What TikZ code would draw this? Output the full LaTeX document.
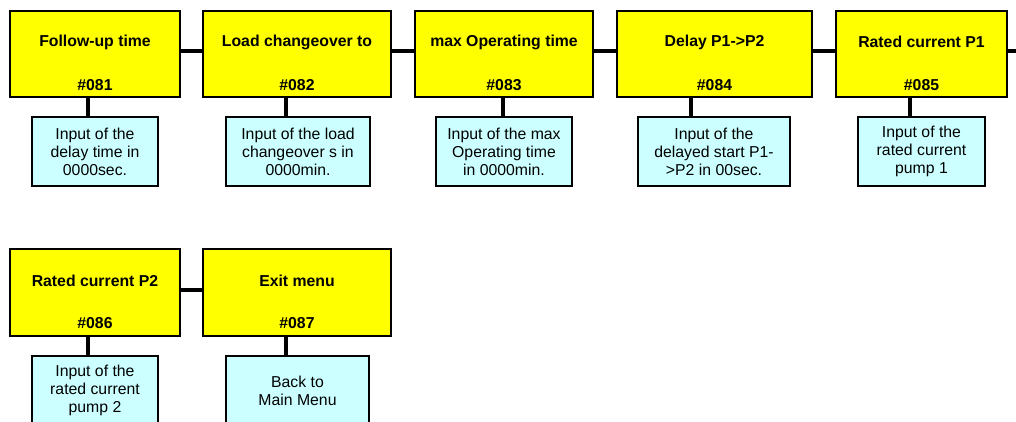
\documentclass[tikz,border=0pt]{standalone}
\usepackage{fontspec}
\setmainfont{Liberation Sans}
\definecolor{menuyellow}{RGB}{255,255,0}
\definecolor{infocyan}{RGB}{204,255,255}
\begin{document}
\begin{tikzpicture}[x=1pt,y=-1pt,
  menubox/.style={draw=black,line width=2pt,fill=menuyellow,inner sep=0pt},
  infobox/.style={draw=black,line width=1.8pt,fill=infocyan,inner sep=0pt,
    minimum height=69pt,align=center,font=\fontsize{15.8}{18}\selectfont},
  title/.style={font=\bfseries\fontsize{15.8}{18}\selectfont},
  link/.style={line width=4pt}]
  \useasboundingbox (0,0) rectangle (1016,422);
  % first row of menu entries
  \node[menubox,minimum width=170pt,minimum height=86pt] (m81) at (95,54) {};
  \node[menubox,minimum width=188pt,minimum height=86pt] (m82) at (297,54) {};
  \node[menubox,minimum width=178pt,minimum height=86pt] (m83) at (504,54) {};
  \node[menubox,minimum width=195pt,minimum height=86pt] (m84) at (714.5,54) {};
  \node[menubox,minimum width=171pt,minimum height=86pt] (m85) at (921.5,54) {};
  \node[title] (t81) at (95,42) {Follow-up time};
  \node[title] (t82) at (297,42) {Load changeover to};
  \node[title] (t83) at (504,42) {max Operating time};
  \node[title] (t84) at (714.5,42) {Delay P1->P2};
  \node[title] (t85) at (921.5,42) {Rated current P1};
  \node[title] (n81) at (95,85) {\#081};
  \node[title] (n82) at (297,85) {\#082};
  \node[title] (n83) at (504,85) {\#083};
  \node[title] (n84) at (714.5,85) {\#084};
  \node[title] (n85) at (921.5,85) {\#085};
  \node[infobox,minimum width=126pt] (i81) at (95,151.5) {Input of the\\delay time in\\0000sec.};
  \node[infobox,minimum width=144pt] (i82) at (298,151.5) {Input of the load\\changeover s in\\0000min.};
  \node[infobox,minimum width=136pt] (i83) at (504,151.5) {Input of the max\\Operating time\\in 0000min.};
  \node[infobox,minimum width=152pt] (i84) at (714,151.5) {Input of the\\delayed start P1-\\>P2 in 00sec.};
  \node[infobox,minimum width=127pt] (i85) at (921.5,151.5) {Input of the\\rated current\\pump 1};
  \coordinate (r1end) at (1016,51);
  % second row
  \node[menubox,minimum width=170pt,minimum height=87pt] (m86) at (95,292.5) {};
  \node[menubox,minimum width=188pt,minimum height=87pt] (m87) at (297,292.5) {};
  \node[title] (t86) at (95,281) {Rated current P2};
  \node[title] (t87) at (297,281) {Exit menu};
  \node[title] (n86) at (95,323) {\#086};
  \node[title] (n87) at (297,323) {\#087};
  \node[infobox,minimum width=126pt] (i86) at (95,390.5) {Input of the\\rated current\\pump 2};
  \node[infobox,minimum width=143pt] (i87) at (297.5,390.5) {Back to\\Main Menu};
  % connectors
  \draw[link] ([yshift=3pt]m81.east) -- ([yshift=3pt]m82.west);
  \draw[link] ([yshift=3pt]m82.east) -- ([yshift=3pt]m83.west);
  \draw[link] ([yshift=3pt]m83.east) -- ([yshift=3pt]m84.west);
  \draw[link] ([yshift=3pt]m84.east) -- ([yshift=3pt]m85.west);
  \draw[link] ([yshift=3pt]m85.east) -- (r1end);
  \draw[link] ([yshift=2.5pt]m86.east) -- ([yshift=2.5pt]m87.west);
  \draw[link] ([xshift=-7pt]m81.south) -- ([xshift=-7pt]i81.north);
  \draw[link] ([xshift=-11pt]m82.south) -- ([xshift=-12pt]i82.north);
  \draw[link] ([xshift=-1pt]m83.south) -- ([xshift=-1pt]i83.north);
  \draw[link] ([xshift=-23.5pt]m84.south) -- ([xshift=-23pt]i84.north);
  \draw[link] ([xshift=-11.5pt]m85.south) -- ([xshift=-11.5pt]i85.north);
  \draw[link] ([xshift=-7pt]m86.south) -- ([xshift=-7pt]i86.north);
  \draw[link] ([xshift=-11pt]m87.south) -- ([xshift=-11.5pt]i87.north);
\end{tikzpicture}
\end{document}
